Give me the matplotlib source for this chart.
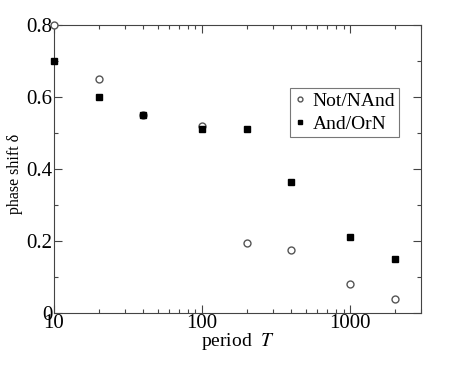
import matplotlib
matplotlib.use("Agg")
import matplotlib.pyplot as plt
from matplotlib.ticker import MultipleLocator, NullFormatter

period = [10, 20, 40, 100, 200, 400, 1000, 2000]
not_nand = [0.80, 0.65, 0.55, 0.52, 0.195, 0.175, 0.08, 0.04]
and_orn = [0.70, 0.60, 0.55, 0.51, 0.51, 0.365, 0.21, 0.15]

plt.rcParams['font.family'] = ['Liberation Serif', 'DejaVu Serif']
plt.rcParams['mathtext.fontset'] = 'stix'

fig = plt.figure(figsize=(4.74, 3.67), dpi=100)
ax = fig.add_axes([54 / 474, 1 - 313 / 367, (421 - 54) / 474, (313 - 25) / 367])

ax.plot(period, not_nand, 'o', mfc='white', mec='#555555', mew=1.0, ms=5,
        label='Not/NAnd', clip_on=False, zorder=3)
ax.plot(period, and_orn, 's', color='black', ms=5, label='And/OrN',
        clip_on=False, zorder=3)

ax.set_xscale('log')
ax.set_xlim(10, 3000)
ax.set_ylim(0, 0.8)
ax.yaxis.set_minor_locator(MultipleLocator(0.1))
ax.set_yticks([0, 0.2, 0.4, 0.6, 0.8])
ax.set_yticklabels(['0', '0.2', '0.4', '0.6', '0.8'])
ax.set_xticks([10, 100, 1000])
ax.set_xticklabels(['10', '100', '1000'])
ax.xaxis.set_minor_formatter(NullFormatter())

ax.tick_params(which='both', direction='in', top=True, right=True,
               labelsize=15, width=0.8, color='#444444')
ax.tick_params(which='major', length=6, pad=1)
ax.tick_params(which='minor', length=3)
for s in ax.spines.values():
    s.set_linewidth(0.8)
    s.set_color('#444444')

ax.set_xlabel('period  $T$', fontsize=14, labelpad=-2)
ax.set_ylabel('phase shift δ', fontsize=11.5, labelpad=3)
ax.yaxis.set_label_coords(-0.085, 0.483)

leg = ax.legend(loc='upper right', bbox_to_anchor=(0.940, 0.781), borderaxespad=0,
                fontsize=14, frameon=True, fancybox=False, edgecolor='#555555',
                handlelength=0.6, handletextpad=0.36, borderpad=0.2,
                labelspacing=0.3, markerscale=0.7)
leg.get_frame().set_linewidth(0.8)

fig.savefig('out.png', dpi=100)
